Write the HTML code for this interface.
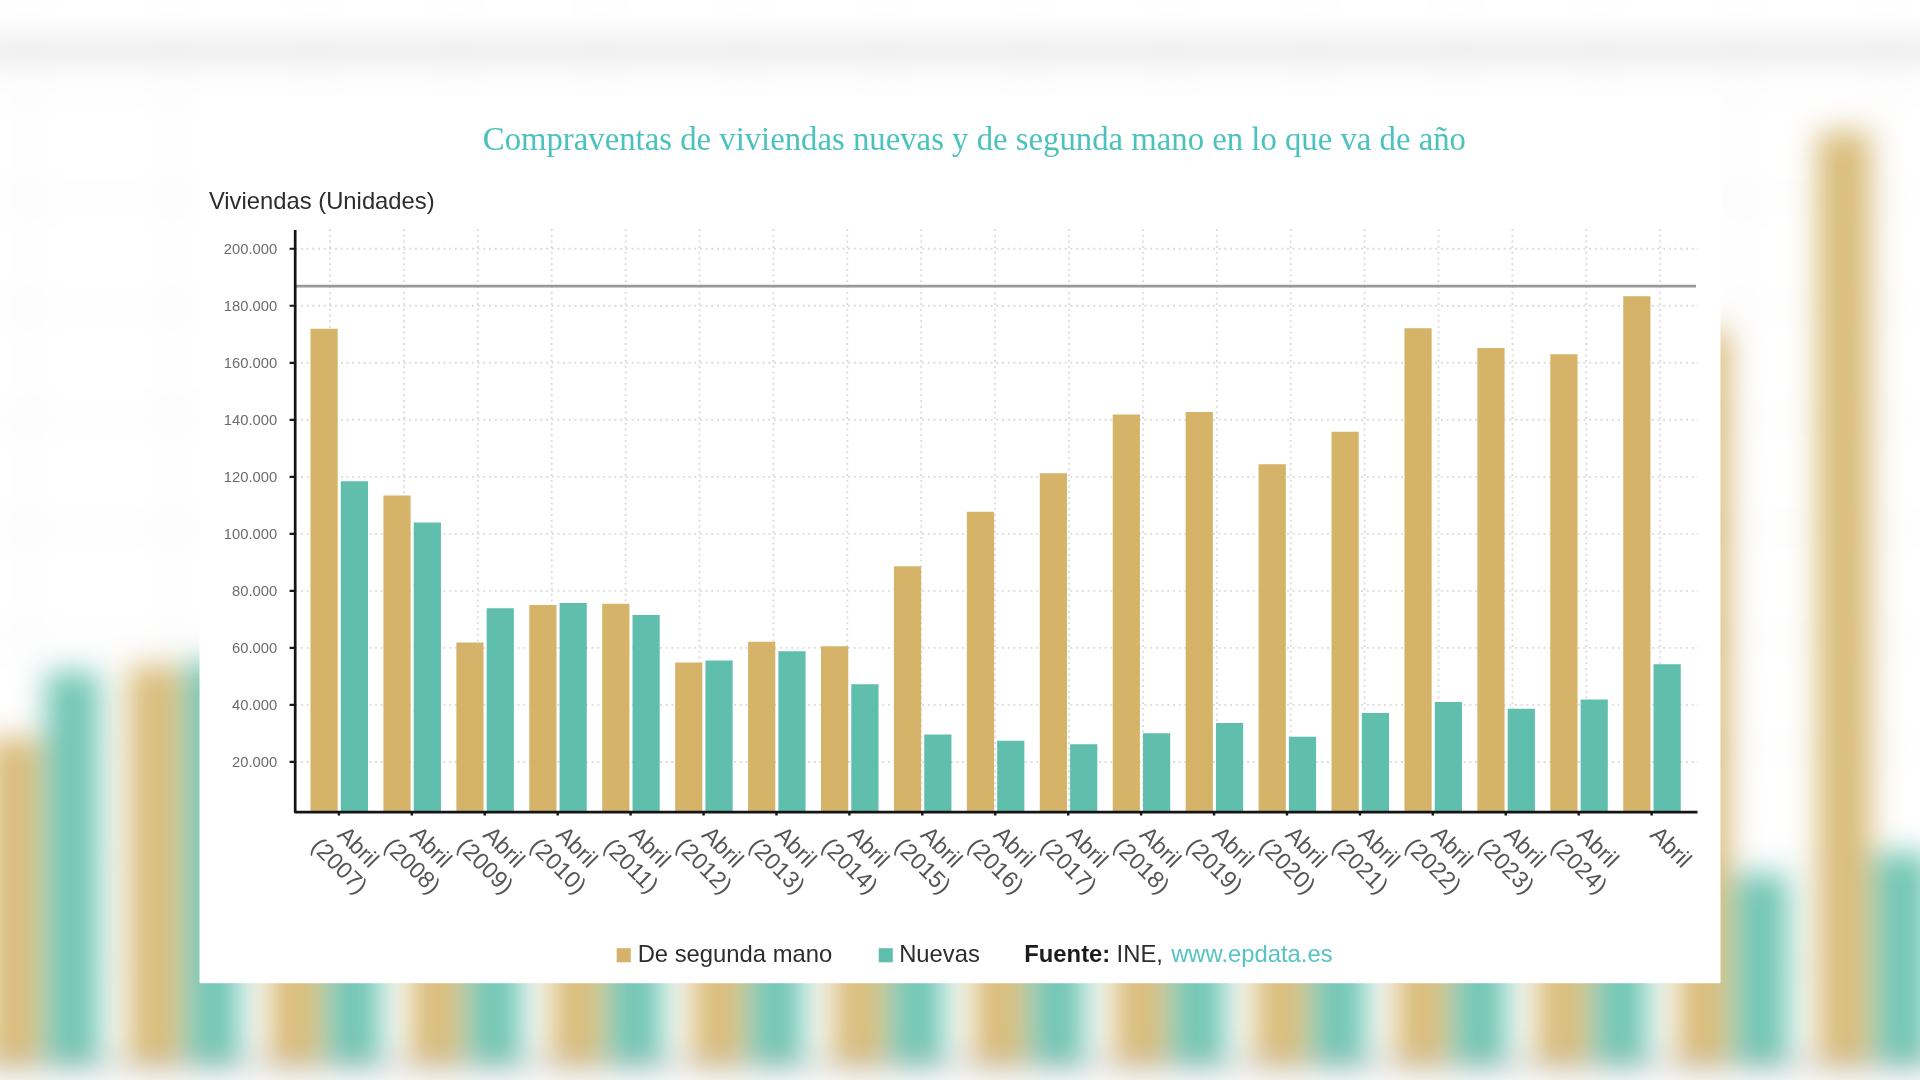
<!DOCTYPE html>
<html lang="es"><head><meta charset="utf-8">
<title>Compraventas de viviendas nuevas y de segunda mano en lo que va de año</title>
<style>
html,body{margin:0;padding:0;background:#fff;}
body{width:1920px;height:1080px;overflow:hidden;}
svg{display:block;}
text{font-family:"Liberation Sans",sans-serif;}
.ttl{font-family:"Liberation Serif",serif;}
</style></head><body>
<svg width="1920" height="1080" viewBox="0 0 1920 1080">
<defs>
<filter id="bgblur" x="-5%" y="-5%" width="110%" height="110%" color-interpolation-filters="sRGB"><feGaussianBlur stdDeviation="15"/></filter>
<filter id="fgblur" x="-2%" y="-2%" width="104%" height="104%" color-interpolation-filters="sRGB"><feGaussianBlur stdDeviation="0.65"/></filter>
<clipPath id="cardclip"><rect x="199.3" y="96.6" width="1521.4" height="886.8"/></clipPath>
<g id="plot">
<g stroke="#dcdcdc" stroke-width="1.9" stroke-dasharray="2 3.7" fill="none">
<path d="M295.2 248.75H1698"/>
<path d="M295.2 305.77H1698"/>
<path d="M295.2 362.79H1698"/>
<path d="M295.2 419.81H1698"/>
<path d="M295.2 476.83H1698"/>
<path d="M295.2 533.85H1698"/>
<path d="M295.2 590.87H1698"/>
<path d="M295.2 647.89H1698"/>
<path d="M295.2 704.91H1698"/>
<path d="M295.2 761.93H1698"/>
<path d="M330 229V810.6"/>
<path d="M403.9 229V810.6"/>
<path d="M477.8 229V810.6"/>
<path d="M551.7 229V810.6"/>
<path d="M625.6 229V810.6"/>
<path d="M699.5 229V810.6"/>
<path d="M773.4 229V810.6"/>
<path d="M847.3 229V810.6"/>
<path d="M921.2 229V810.6"/>
<path d="M995.1 229V810.6"/>
<path d="M1069 229V810.6"/>
<path d="M1142.9 229V810.6"/>
<path d="M1216.8 229V810.6"/>
<path d="M1290.7 229V810.6"/>
<path d="M1364.6 229V810.6"/>
<path d="M1438.5 229V810.6"/>
<path d="M1512.4 229V810.6"/>
<path d="M1586.3 229V810.6"/>
<path d="M1660.2 229V810.6"/>
</g>
<path d="M295.2 286.2H1696" stroke="#9a9a9a" stroke-width="2.8"/>
<g fill="#d5b46a">
<rect x="310.5" y="328.75" width="27.2" height="482.85"/>
<rect x="383.43" y="495.5" width="27.2" height="316.1"/>
<rect x="456.36" y="642.5" width="27.2" height="169.1"/>
<rect x="529.29" y="605" width="27.2" height="206.6"/>
<rect x="602.22" y="603.75" width="27.2" height="207.85"/>
<rect x="675.15" y="662.5" width="27.2" height="149.1"/>
<rect x="748.08" y="641.75" width="27.2" height="169.85"/>
<rect x="821.01" y="646.25" width="27.2" height="165.35"/>
<rect x="893.94" y="566.25" width="27.2" height="245.35"/>
<rect x="966.87" y="511.75" width="27.2" height="299.85"/>
<rect x="1039.8" y="473.25" width="27.2" height="338.35"/>
<rect x="1112.73" y="414.5" width="27.2" height="397.1"/>
<rect x="1185.66" y="412" width="27.2" height="399.6"/>
<rect x="1258.59" y="464.25" width="27.2" height="347.35"/>
<rect x="1331.52" y="431.75" width="27.2" height="379.85"/>
<rect x="1404.45" y="328.25" width="27.2" height="483.35"/>
<rect x="1477.38" y="348" width="27.2" height="463.6"/>
<rect x="1550.31" y="354.25" width="27.2" height="457.35"/>
<rect x="1623.24" y="296.25" width="27.2" height="515.35"/>
</g>
<g fill="#60bfac">
<rect x="340.8" y="481.25" width="27.2" height="330.35"/>
<rect x="413.73" y="522.5" width="27.2" height="289.1"/>
<rect x="486.66" y="608.25" width="27.2" height="203.35"/>
<rect x="559.59" y="603" width="27.2" height="208.6"/>
<rect x="632.52" y="615" width="27.2" height="196.6"/>
<rect x="705.45" y="660.5" width="27.2" height="151.1"/>
<rect x="778.38" y="651.25" width="27.2" height="160.35"/>
<rect x="851.31" y="684.25" width="27.2" height="127.35"/>
<rect x="924.24" y="734.5" width="27.2" height="77.1"/>
<rect x="997.17" y="740.75" width="27.2" height="70.85"/>
<rect x="1070.1" y="744.25" width="27.2" height="67.35"/>
<rect x="1143.03" y="733.25" width="27.2" height="78.35"/>
<rect x="1215.96" y="723" width="27.2" height="88.6"/>
<rect x="1288.89" y="736.75" width="27.2" height="74.85"/>
<rect x="1361.82" y="713" width="27.2" height="98.6"/>
<rect x="1434.75" y="702" width="27.2" height="109.6"/>
<rect x="1507.68" y="708.75" width="27.2" height="102.85"/>
<rect x="1580.61" y="699.5" width="27.2" height="112.1"/>
<rect x="1653.54" y="664.25" width="27.2" height="147.35"/>
</g>
</g>
<g id="chart">
<rect x="199.3" y="96.6" width="1521.4" height="886.8" fill="#fff"/>
<use href="#plot"/>
<g stroke="#151515" fill="none">
<path d="M295.2 230V812.1H1697.5" stroke-width="2.7" stroke-linejoin="round"/>
<path d="M289.6 248.75H295.2M289.6 305.77H295.2M289.6 362.79H295.2M289.6 419.81H295.2M289.6 476.83H295.2M289.6 533.85H295.2M289.6 590.87H295.2M289.6 647.89H295.2M289.6 704.91H295.2M289.6 761.93H295.2" stroke-width="2.2"/>
<path d="M338.9 812.1V815.5M411.83 812.1V815.5M484.76 812.1V815.5M557.69 812.1V815.5M630.62 812.1V815.5M703.55 812.1V815.5M776.48 812.1V815.5M849.41 812.1V815.5M922.34 812.1V815.5M995.27 812.1V815.5M1068.2 812.1V815.5M1141.13 812.1V815.5M1214.06 812.1V815.5M1286.99 812.1V815.5M1359.92 812.1V815.5M1432.85 812.1V815.5M1505.78 812.1V815.5M1578.71 812.1V815.5M1651.64 812.1V815.5" stroke-width="2.4"/>
</g>
<g font-size="14.75" fill="#6c6c6c" text-anchor="end">
<text x="277.2" y="254.05">200.000</text>
<text x="277.2" y="311.07">180.000</text>
<text x="277.2" y="368.09">160.000</text>
<text x="277.2" y="425.11">140.000</text>
<text x="277.2" y="482.13">120.000</text>
<text x="277.2" y="539.15">100.000</text>
<text x="277.2" y="596.17">80.000</text>
<text x="277.2" y="653.19">60.000</text>
<text x="277.2" y="710.21">40.000</text>
<text x="277.2" y="767.23">20.000</text>
</g>
<g font-size="23.4" fill="#555555" text-anchor="middle">
<g transform="translate(352.7 852.6) rotate(45)"><text>Abril</text><text y="26.5">(2007)</text></g>
<g transform="translate(425.63 852.6) rotate(45)"><text>Abril</text><text y="26.5">(2008)</text></g>
<g transform="translate(498.56 852.6) rotate(45)"><text>Abril</text><text y="26.5">(2009)</text></g>
<g transform="translate(571.49 852.6) rotate(45)"><text>Abril</text><text y="26.5">(2010)</text></g>
<g transform="translate(644.42 852.6) rotate(45)"><text>Abril</text><text y="26.5">(2011)</text></g>
<g transform="translate(717.35 852.6) rotate(45)"><text>Abril</text><text y="26.5">(2012)</text></g>
<g transform="translate(790.28 852.6) rotate(45)"><text>Abril</text><text y="26.5">(2013)</text></g>
<g transform="translate(863.21 852.6) rotate(45)"><text>Abril</text><text y="26.5">(2014)</text></g>
<g transform="translate(936.14 852.6) rotate(45)"><text>Abril</text><text y="26.5">(2015)</text></g>
<g transform="translate(1009.07 852.6) rotate(45)"><text>Abril</text><text y="26.5">(2016)</text></g>
<g transform="translate(1082 852.6) rotate(45)"><text>Abril</text><text y="26.5">(2017)</text></g>
<g transform="translate(1154.93 852.6) rotate(45)"><text>Abril</text><text y="26.5">(2018)</text></g>
<g transform="translate(1227.86 852.6) rotate(45)"><text>Abril</text><text y="26.5">(2019)</text></g>
<g transform="translate(1300.79 852.6) rotate(45)"><text>Abril</text><text y="26.5">(2020)</text></g>
<g transform="translate(1373.72 852.6) rotate(45)"><text>Abril</text><text y="26.5">(2021)</text></g>
<g transform="translate(1446.65 852.6) rotate(45)"><text>Abril</text><text y="26.5">(2022)</text></g>
<g transform="translate(1519.58 852.6) rotate(45)"><text>Abril</text><text y="26.5">(2023)</text></g>
<g transform="translate(1592.51 852.6) rotate(45)"><text>Abril</text><text y="26.5">(2024)</text></g>
<g transform="translate(1665.44 852.6) rotate(45)"><text>Abril</text></g>
</g>
<text class="ttl" x="482.8" y="150" font-size="32.75" fill="#4bc2be">Compraventas de viviendas nuevas y de segunda mano en lo que va de año</text>
<text x="208.9" y="209.2" font-size="23.8" fill="#2c2c2c">Viviendas (Unidades)</text>
<rect x="616.7" y="948.2" width="14.1" height="14.1" fill="#d5b46a"/>
<rect x="878.7" y="948.2" width="14.1" height="14.1" fill="#60bfac"/>
<g font-size="23.8" fill="#2c2c2c">
<text x="637.7" y="962">De segunda mano</text>
<text x="899.2" y="962">Nuevas</text>
<text x="1024.3" y="962" font-weight="bold" fill="#1c1c1c">Fuente:</text>
<text x="1116.6" y="962">INE,</text>
<text x="1171.2" y="962" fill="#55c3c4">www.epdata.es</text>
</g>
</g>
</defs>
<rect width="1920" height="1080" fill="#fff"/>
<g filter="url(#bgblur)"><g transform="translate(960 540) scale(1.93) translate(-960 -540)"><rect x="-200" y="-200" width="2400" height="1500" fill="#fff"/><use href="#plot"/><path d="M295.2 812.1H1697.5" stroke="#8a8a8a" stroke-width="2.7"/></g></g>
<rect width="1920" height="1080" fill="#fff" opacity="0.1"/>
<g clip-path="url(#cardclip)"><g filter="url(#fgblur)"><use href="#chart"/></g></g>
</svg>
</body></html>
